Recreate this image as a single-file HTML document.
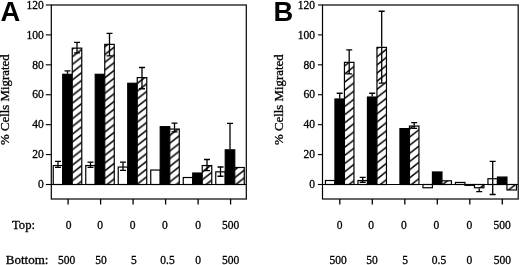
<!DOCTYPE html>
<html><head><meta charset="utf-8"><title>Figure</title>
<style>
html,body{margin:0;padding:0;background:#fff;}
body{width:520px;height:265px;overflow:hidden;font-family:"Liberation Serif",serif;}
svg{display:block;will-change:transform;}
text.s{stroke:#000;stroke-width:0.3px;}
</style></head><body>
<svg width="520" height="265" viewBox="0 0 520 265" font-family="Liberation Serif, serif" fill="#000">
<defs>
<pattern id="hA" patternUnits="userSpaceOnUse" x="72.5" y="95.35" width="9.9" height="7.75">
<rect width="9.9" height="7.75" fill="#fff"/>
<path d="M0 7.75L9.9 0M-4.95 3.875L4.95 -3.875M4.95 11.625L14.85 3.875" stroke="#000" stroke-width="1.55"/>
</pattern>
<pattern id="hB" patternUnits="userSpaceOnUse" x="345" y="98.1" width="10.4" height="8.15">
<rect width="10.4" height="8.15" fill="#fff"/>
<path d="M0 8.15L10.4 0M-5.2 4.075L5.2 -4.075M5.2 12.225L15.6 4.075" stroke="#000" stroke-width="1.55"/>
</pattern>
</defs>
<rect x="53.25" y="165.55" width="9.5" height="18.95" fill="#fff" stroke="#000" stroke-width="1.2"/>
<path d="M58.00 165.05V161.31M55.00 161.31H61.00" stroke="#000" stroke-width="1.3" fill="none"/>
<path d="M58.00 165.05V167.30M55.00 167.30H61.00" stroke="#000" stroke-width="1.3" fill="none"/>
<rect x="62.75" y="74.30" width="9.5" height="110.20" fill="#000" stroke="#000" stroke-width="1.2"/>
<path d="M67.50 73.80V70.80M64.50 70.80H70.50" stroke="#000" stroke-width="1.3" fill="none"/>
<rect x="72.25" y="48.12" width="9.5" height="136.38" fill="#fff"/>
<rect x="72.25" y="48.12" width="9.5" height="136.38" fill="url(#hA)" stroke="#000" stroke-width="1.2"/>
<path d="M77.00 47.62V42.38M74.00 42.38H80.00" stroke="#000" stroke-width="1.3" fill="none"/>
<path d="M77.00 47.62V52.85M74.00 52.85H80.00" stroke="#000" stroke-width="1.3" fill="none"/>
<rect x="85.75" y="165.55" width="9.5" height="18.95" fill="#fff" stroke="#000" stroke-width="1.2"/>
<path d="M90.50 165.05V162.06M87.50 162.06H93.50" stroke="#000" stroke-width="1.3" fill="none"/>
<path d="M90.50 165.05V167.30M87.50 167.30H93.50" stroke="#000" stroke-width="1.3" fill="none"/>
<rect x="95.25" y="74.30" width="9.5" height="110.20" fill="#000" stroke="#000" stroke-width="1.2"/>
<rect x="104.75" y="44.38" width="9.5" height="140.12" fill="#fff"/>
<rect x="104.75" y="44.38" width="9.5" height="140.12" fill="url(#hA)" stroke="#000" stroke-width="1.2"/>
<path d="M109.50 43.88V33.40M106.50 33.40H112.50" stroke="#000" stroke-width="1.3" fill="none"/>
<path d="M109.50 43.88V55.84M106.50 55.84H112.50" stroke="#000" stroke-width="1.3" fill="none"/>
<rect x="118.25" y="167.05" width="9.5" height="17.45" fill="#fff" stroke="#000" stroke-width="1.2"/>
<path d="M123.00 166.55V162.06M120.00 162.06H126.00" stroke="#000" stroke-width="1.3" fill="none"/>
<path d="M123.00 166.55V170.29M120.00 170.29H126.00" stroke="#000" stroke-width="1.3" fill="none"/>
<rect x="127.75" y="83.27" width="9.5" height="101.23" fill="#000" stroke="#000" stroke-width="1.2"/>
<rect x="137.25" y="77.59" width="9.5" height="106.91" fill="#fff"/>
<rect x="137.25" y="77.59" width="9.5" height="106.91" fill="url(#hA)" stroke="#000" stroke-width="1.2"/>
<path d="M142.00 77.09V67.51M139.00 67.51H145.00" stroke="#000" stroke-width="1.3" fill="none"/>
<path d="M142.00 77.09V88.76M139.00 88.76H145.00" stroke="#000" stroke-width="1.3" fill="none"/>
<rect x="150.75" y="170.04" width="9.5" height="14.46" fill="#fff" stroke="#000" stroke-width="1.2"/>
<rect x="160.25" y="126.66" width="9.5" height="57.84" fill="#000" stroke="#000" stroke-width="1.2"/>
<rect x="169.75" y="129.05" width="9.5" height="55.45" fill="#fff"/>
<rect x="169.75" y="129.05" width="9.5" height="55.45" fill="url(#hA)" stroke="#000" stroke-width="1.2"/>
<path d="M174.50 128.55V123.16M171.50 123.16H177.50" stroke="#000" stroke-width="1.3" fill="none"/>
<path d="M174.50 128.55V131.84M171.50 131.84H177.50" stroke="#000" stroke-width="1.3" fill="none"/>
<rect x="183.25" y="177.52" width="9.5" height="6.98" fill="#fff" stroke="#000" stroke-width="1.2"/>
<rect x="192.75" y="173.03" width="9.5" height="11.47" fill="#000" stroke="#000" stroke-width="1.2"/>
<rect x="202.25" y="165.55" width="9.5" height="18.95" fill="#fff"/>
<rect x="202.25" y="165.55" width="9.5" height="18.95" fill="url(#hA)" stroke="#000" stroke-width="1.2"/>
<path d="M207.00 165.05V159.52M204.00 159.52H210.00" stroke="#000" stroke-width="1.3" fill="none"/>
<path d="M207.00 165.05V170.59M204.00 170.59H210.00" stroke="#000" stroke-width="1.3" fill="none"/>
<rect x="215.75" y="171.84" width="9.5" height="12.66" fill="#fff" stroke="#000" stroke-width="1.2"/>
<path d="M220.50 171.34V167.00M217.50 167.00H223.50" stroke="#000" stroke-width="1.3" fill="none"/>
<path d="M220.50 171.34V176.27M217.50 176.27H223.50" stroke="#000" stroke-width="1.3" fill="none"/>
<rect x="225.25" y="149.84" width="9.5" height="34.66" fill="#000" stroke="#000" stroke-width="1.2"/>
<path d="M230.00 149.34V123.46M227.00 123.46H233.00" stroke="#000" stroke-width="1.3" fill="none"/>
<rect x="234.75" y="167.50" width="9.5" height="17.00" fill="#fff"/>
<rect x="234.75" y="167.50" width="9.5" height="17.00" fill="url(#hA)" stroke="#000" stroke-width="1.2"/>
<rect x="51.3" y="5" width="195.0" height="194" fill="none" stroke="#000" stroke-width="1.2"/>
<path d="M51.3 184.5H246.3" stroke="#000" stroke-width="1.1"/>
<path d="M45.8 184.50H51.3" stroke="#000" stroke-width="1.1"/>
<text x="43.699999999999996" y="188.20" class="s" text-anchor="end" font-size="11.5">0</text>
<path d="M45.8 154.58H51.3" stroke="#000" stroke-width="1.1"/>
<text x="43.699999999999996" y="158.28" class="s" text-anchor="end" font-size="11.5">20</text>
<path d="M45.8 124.66H51.3" stroke="#000" stroke-width="1.1"/>
<text x="43.699999999999996" y="128.36" class="s" text-anchor="end" font-size="11.5">40</text>
<path d="M45.8 94.74H51.3" stroke="#000" stroke-width="1.1"/>
<text x="43.699999999999996" y="98.44" class="s" text-anchor="end" font-size="11.5">60</text>
<path d="M45.8 64.82H51.3" stroke="#000" stroke-width="1.1"/>
<text x="43.699999999999996" y="68.52" class="s" text-anchor="end" font-size="11.5">80</text>
<path d="M45.8 34.90H51.3" stroke="#000" stroke-width="1.1"/>
<text x="43.699999999999996" y="38.60" class="s" text-anchor="end" font-size="11.5">100</text>
<path d="M45.8 4.98H51.3" stroke="#000" stroke-width="1.1"/>
<text x="43.699999999999996" y="8.68" class="s" text-anchor="end" font-size="11.5">120</text>
<path d="M68.10 199V204.5" stroke="#000" stroke-width="1.3"/>
<path d="M100.60 199V204.5" stroke="#000" stroke-width="1.3"/>
<path d="M133.10 199V204.5" stroke="#000" stroke-width="1.3"/>
<path d="M165.60 199V204.5" stroke="#000" stroke-width="1.3"/>
<path d="M198.10 199V204.5" stroke="#000" stroke-width="1.3"/>
<path d="M230.60 199V204.5" stroke="#000" stroke-width="1.3"/>
<text transform="translate(8.8 144.9) rotate(-90)" class="s" font-size="12" textLength="90.5" lengthAdjust="spacingAndGlyphs">% Cells Migrated</text>
<text x="0.5" y="20.6" font-family="Liberation Sans" font-weight="bold" font-size="27.3">A</text>
<text x="68.50" y="229.1" class="s" text-anchor="middle" font-size="11.5">0</text>
<text x="66.50" y="263.9" class="s" text-anchor="middle" font-size="11.5">500</text>
<text x="100.00" y="229.1" class="s" text-anchor="middle" font-size="11.5">0</text>
<text x="101.00" y="263.9" class="s" text-anchor="middle" font-size="11.5">50</text>
<text x="132.50" y="229.1" class="s" text-anchor="middle" font-size="11.5">0</text>
<text x="133.75" y="263.9" class="s" text-anchor="middle" font-size="11.5">5</text>
<text x="164.80" y="229.1" class="s" text-anchor="middle" font-size="11.5">0</text>
<text x="167.50" y="263.9" class="s" text-anchor="middle" font-size="11.5">0.5</text>
<text x="198.20" y="229.1" class="s" text-anchor="middle" font-size="11.5">0</text>
<text x="198.20" y="263.9" class="s" text-anchor="middle" font-size="11.5">0</text>
<text x="230.50" y="229.1" class="s" text-anchor="middle" font-size="11.5">500</text>
<text x="230.50" y="263.9" class="s" text-anchor="middle" font-size="11.5">500</text>
<text x="12" y="229.1" class="s" font-size="12" textLength="23" lengthAdjust="spacingAndGlyphs">Top:</text>
<text x="5.8" y="263.9" class="s" font-size="12" textLength="42.7" lengthAdjust="spacingAndGlyphs">Bottom:</text>
<rect x="325.45" y="180.51" width="9.5" height="3.99" fill="#fff" stroke="#000" stroke-width="1.2"/>
<rect x="334.95" y="98.98" width="9.5" height="85.52" fill="#000" stroke="#000" stroke-width="1.2"/>
<path d="M339.70 98.48V93.24M336.70 93.24H342.70" stroke="#000" stroke-width="1.3" fill="none"/>
<rect x="344.45" y="62.33" width="9.5" height="122.17" fill="#fff"/>
<rect x="344.45" y="62.33" width="9.5" height="122.17" fill="url(#hB)" stroke="#000" stroke-width="1.2"/>
<path d="M349.20 61.83V49.86M346.20 49.86H352.20" stroke="#000" stroke-width="1.3" fill="none"/>
<path d="M349.20 61.83V73.80M346.20 73.80H352.20" stroke="#000" stroke-width="1.3" fill="none"/>
<rect x="357.95" y="180.51" width="9.5" height="3.99" fill="#fff" stroke="#000" stroke-width="1.2"/>
<path d="M362.70 180.01V177.32M359.70 177.32H365.70" stroke="#000" stroke-width="1.3" fill="none"/>
<path d="M362.70 180.01V182.26M359.70 182.26H365.70" stroke="#000" stroke-width="1.3" fill="none"/>
<rect x="367.45" y="97.04" width="9.5" height="87.46" fill="#000" stroke="#000" stroke-width="1.2"/>
<path d="M372.20 96.54V93.24M369.20 93.24H375.20" stroke="#000" stroke-width="1.3" fill="none"/>
<rect x="376.95" y="47.37" width="9.5" height="137.13" fill="#fff"/>
<rect x="376.95" y="47.37" width="9.5" height="137.13" fill="url(#hB)" stroke="#000" stroke-width="1.2"/>
<path d="M381.70 46.87V11.26M378.70 11.26H384.70" stroke="#000" stroke-width="1.3" fill="none"/>
<path d="M381.70 46.87V83.07M378.70 83.07H384.70" stroke="#000" stroke-width="1.3" fill="none"/>
<rect x="399.95" y="128.60" width="9.5" height="55.90" fill="#000" stroke="#000" stroke-width="1.2"/>
<rect x="409.45" y="126.06" width="9.5" height="58.44" fill="#fff"/>
<rect x="409.45" y="126.06" width="9.5" height="58.44" fill="url(#hB)" stroke="#000" stroke-width="1.2"/>
<path d="M414.20 125.56V122.72M411.20 122.72H417.20" stroke="#000" stroke-width="1.3" fill="none"/>
<path d="M414.20 125.56V128.40M411.20 128.40H417.20" stroke="#000" stroke-width="1.3" fill="none"/>
<rect x="422.95" y="184.50" width="9.5" height="3.24" fill="#fff" stroke="#000" stroke-width="1.2"/>
<rect x="432.45" y="171.98" width="9.5" height="12.52" fill="#000" stroke="#000" stroke-width="1.2"/>
<rect x="441.95" y="180.81" width="9.5" height="3.69" fill="#fff"/>
<rect x="441.95" y="180.81" width="9.5" height="3.69" fill="url(#hB)" stroke="#000" stroke-width="1.2"/>
<rect x="455.45" y="182.46" width="9.5" height="2.04" fill="#fff" stroke="#000" stroke-width="1.2"/>
<rect x="464.95" y="184.50" width="9.5" height="0.80" fill="#000" stroke="#000" stroke-width="1.2"/>
<rect x="474.45" y="184.50" width="9.5" height="3.24" fill="#fff"/>
<rect x="474.45" y="184.50" width="9.5" height="3.24" fill="url(#hB)" stroke="#000" stroke-width="1.2"/>
<path d="M479.20 188.24V191.53M476.20 191.53H482.20" stroke="#000" stroke-width="1.3" fill="none"/>
<rect x="487.95" y="178.72" width="9.5" height="5.78" fill="#fff" stroke="#000" stroke-width="1.2"/>
<path d="M492.70 178.22V161.46M489.70 161.46H495.70" stroke="#000" stroke-width="1.3" fill="none"/>
<path d="M492.70 178.22V194.52M489.70 194.52H495.70" stroke="#000" stroke-width="1.3" fill="none"/>
<rect x="497.45" y="177.07" width="9.5" height="7.43" fill="#000" stroke="#000" stroke-width="1.2"/>
<rect x="506.95" y="184.50" width="9.5" height="5.48" fill="#fff"/>
<rect x="506.95" y="184.50" width="9.5" height="5.48" fill="url(#hB)" stroke="#000" stroke-width="1.2"/>
<rect x="322.5" y="5" width="195.70000000000005" height="194" fill="none" stroke="#000" stroke-width="1.2"/>
<path d="M322.5 184.5H518.2" stroke="#000" stroke-width="1.1"/>
<path d="M317.9 184.50H322.5" stroke="#000" stroke-width="1.1"/>
<text x="314.9" y="188.20" class="s" text-anchor="end" font-size="11.5">0</text>
<path d="M317.9 154.58H322.5" stroke="#000" stroke-width="1.1"/>
<text x="314.9" y="158.28" class="s" text-anchor="end" font-size="11.5">20</text>
<path d="M317.9 124.66H322.5" stroke="#000" stroke-width="1.1"/>
<text x="314.9" y="128.36" class="s" text-anchor="end" font-size="11.5">40</text>
<path d="M317.9 94.74H322.5" stroke="#000" stroke-width="1.1"/>
<text x="314.9" y="98.44" class="s" text-anchor="end" font-size="11.5">60</text>
<path d="M317.9 64.82H322.5" stroke="#000" stroke-width="1.1"/>
<text x="314.9" y="68.52" class="s" text-anchor="end" font-size="11.5">80</text>
<path d="M317.9 34.90H322.5" stroke="#000" stroke-width="1.1"/>
<text x="314.9" y="38.60" class="s" text-anchor="end" font-size="11.5">100</text>
<path d="M317.9 4.98H322.5" stroke="#000" stroke-width="1.1"/>
<text x="314.9" y="8.68" class="s" text-anchor="end" font-size="11.5">120</text>
<path d="M339.80 199V204.5" stroke="#000" stroke-width="1.3"/>
<path d="M372.30 199V204.5" stroke="#000" stroke-width="1.3"/>
<path d="M404.80 199V204.5" stroke="#000" stroke-width="1.3"/>
<path d="M437.30 199V204.5" stroke="#000" stroke-width="1.3"/>
<path d="M469.80 199V204.5" stroke="#000" stroke-width="1.3"/>
<path d="M502.30 199V204.5" stroke="#000" stroke-width="1.3"/>
<text transform="translate(282.6 144.9) rotate(-90)" class="s" font-size="12" textLength="90.5" lengthAdjust="spacingAndGlyphs">% Cells Migrated</text>
<text x="273.5" y="20.6" font-family="Liberation Sans" font-weight="bold" font-size="27.3">B</text>
<text x="339.50" y="229.1" class="s" text-anchor="middle" font-size="11.5">0</text>
<text x="338.00" y="263.9" class="s" text-anchor="middle" font-size="11.5">500</text>
<text x="371.00" y="229.1" class="s" text-anchor="middle" font-size="11.5">0</text>
<text x="372.10" y="263.9" class="s" text-anchor="middle" font-size="11.5">50</text>
<text x="403.80" y="229.1" class="s" text-anchor="middle" font-size="11.5">0</text>
<text x="405.00" y="263.9" class="s" text-anchor="middle" font-size="11.5">5</text>
<text x="436.40" y="229.1" class="s" text-anchor="middle" font-size="11.5">0</text>
<text x="439.00" y="263.9" class="s" text-anchor="middle" font-size="11.5">0.5</text>
<text x="469.30" y="229.1" class="s" text-anchor="middle" font-size="11.5">0</text>
<text x="469.30" y="263.9" class="s" text-anchor="middle" font-size="11.5">0</text>
<text x="502.20" y="229.1" class="s" text-anchor="middle" font-size="11.5">500</text>
<text x="502.40" y="263.9" class="s" text-anchor="middle" font-size="11.5">500</text>
</svg>
</body></html>
